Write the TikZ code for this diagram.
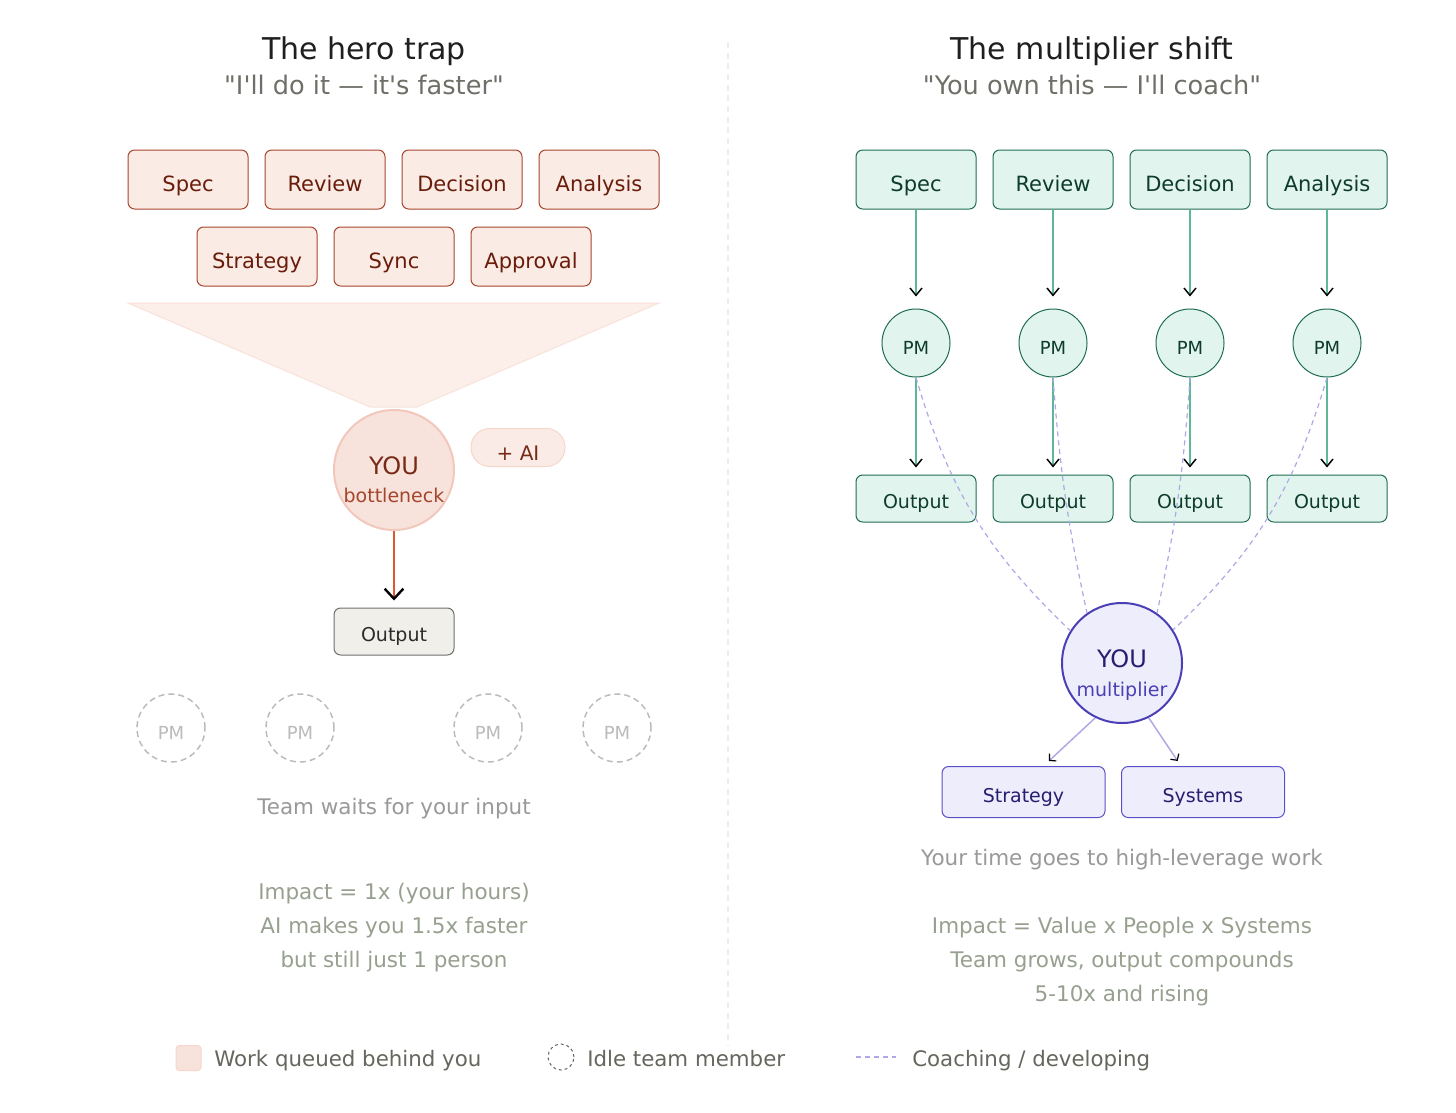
\documentclass[tikz,border=0pt]{standalone}
\usepackage{fontspec}
\setmainfont{DejaVu Sans}
\newfontfamily\plainfont{DejaVu Sans}
\usepackage{tikz}
\usetikzlibrary{positioning, arrows.meta, calc}

\definecolor{heapfill}{HTML}{FAEBE5}
\definecolor{heapdraw}{HTML}{A8462C}
\definecolor{heaptext}{HTML}{6A1C0B}
\definecolor{funnelfill}{HTML}{FCEFEA}
\definecolor{funneldraw}{HTML}{F9E2DA}
\definecolor{stuckfill}{HTML}{F8E2DC}
\definecolor{stuckdraw}{HTML}{F2C8BC}
\definecolor{stucktext}{HTML}{772A15}
\definecolor{bottext}{HTML}{A3462B}
\definecolor{pushline}{HTML}{E2562F}
\definecolor{aifill}{HTML}{FBEBE7}
\definecolor{aidraw}{HTML}{F7D6CC}
\definecolor{doneFill}{HTML}{F1EFEA}
\definecolor{doneDraw}{HTML}{707070}
\definecolor{doneText}{HTML}{2B2B2B}
\definecolor{idlegray}{HTML}{BBBBBB}
\definecolor{notegray}{HTML}{999999}
\definecolor{impactgray}{HTML}{97A08F}
\definecolor{ownfill}{HTML}{E2F4EE}
\definecolor{owndraw}{HTML}{1F6E52}
\definecolor{owntext}{HTML}{0D3B2C}
\definecolor{ownline}{HTML}{5DB897}
\definecolor{multfill}{HTML}{EEEDFC}
\definecolor{multdraw}{HTML}{4B3FB5}
\definecolor{multtext}{HTML}{281E70}
\definecolor{levdraw}{HTML}{5B50C8}
\definecolor{coachline}{HTML}{AFA8E6}
\definecolor{titletext}{HTML}{1F1F1F}
\definecolor{subtext}{HTML}{6F6F68}
\definecolor{legendtext}{HTML}{66665F}
\definecolor{divider}{HTML}{EDEDED}

\newcommand\setfs[1]{\fontsize{#1}{#1}\selectfont}

\tikzset{box/.style = {rectangle, rounded corners=5pt, line width=0.75pt, inner sep=0pt, text depth=0pt},
         heap/.style = {box, draw=heapdraw, fill=heapfill, text=heaptext, minimum width=90pt, minimum height=44.25pt, font=\setfs{15.75pt}, text height=17.3pt},
         done/.style = {box, draw=doneDraw, fill=doneFill, text=doneText, minimum width=90pt, minimum height=35.25pt, font=\setfs{14.25pt}, text height=15.7pt},
         own/.style = {box, draw=owndraw, fill=ownfill, text=owntext, minimum width=90pt, minimum height=44.25pt, font=\setfs{15.75pt}, text height=17.3pt},
         ownout/.style = {own, minimum height=35.25pt, font=\setfs{14.25pt}, text height=15.7pt},
         lever/.style = {box, draw=levdraw, fill=multfill, text=multtext, minimum width=122.25pt, minimum height=38.25pt, font=\setfs{14.25pt}, text height=15.5pt},
         pm/.style = {circle, draw=owndraw, fill=ownfill, text=owntext, minimum size=51pt, inner sep=0pt, line width=0.75pt, font=\setfs{13.5pt}, text height=17.5pt, text depth=0pt},
         idle/.style = {circle, draw=idlegray, dash pattern=on 4.5pt off 3pt, text=idlegray, minimum size=51pt, inner sep=0pt, line width=1.1pt, font=\setfs{13.5pt}, text height=17.5pt, text depth=0pt},
         note/.style = {anchor=base, font=\setfs{16.1pt}},
         legend/.style = {anchor=base west, inner sep=0pt, text=legendtext, font=\setfs{16pt}},
         flow/.style = {draw=ownline, line width=1.1pt, shorten >=5.25pt, -{Straight Barb[color=black, length=5.5pt, width=9pt, line width=1.1pt]}},
         lead/.style = {draw=coachline, line width=1.1pt, -{Straight Barb[color=black, length=3.5pt, width=7.5pt, line width=0.9pt]}},
         coach/.style = {draw=coachline, line width=0.9pt, dash pattern=on 3.75pt off 3pt}}

\begin{document}
\begin{tikzpicture}[x=0.75pt, y=-0.75pt]
            \useasboundingbox (0,0) rectangle (1456,1113);
            \fill[white] (0,0) rectangle (1456,1113);

            \draw[divider, line width=1.1pt, dash pattern=on 4.5pt off 3.5pt] (728,42) -- (728,1045);

            \node[anchor=base, text=titletext, font=\setfs{22.5pt}] (herotitle) at (364,60) {The hero trap};
            \node[anchor=base, text=subtext, font=\plainfont\setfs{19.2pt}] (herosub) at (364,94) {"I'll do it — it's faster"};
            \node[anchor=base, text=titletext, font=\setfs{22.5pt}] (multtitle) at (1092,60) {The multiplier shift};
            \node[anchor=base, text=subtext, font=\plainfont\setfs{19.2pt}] (multsub) at (1092,94) {"You own this — I'll coach"};

            % hero side
            \foreach \name/\x in {Spec/188, Review/325, Decision/462, Analysis/599}
                \node[heap] (h\name) at (\x,179.5) {\name};
            \foreach \name/\x in {Strategy/257, Sync/394, Approval/531}
                \node[heap] (h\name) at (\x,256.5) {\name};

            \draw[draw=funneldraw, fill=funnelfill, line width=0.75pt] (128,303) -- (659,303) -- (417,407) -- (370,407) -- cycle;

            \node[circle, draw=stuckdraw, fill=stuckfill, line width=1.5pt, minimum size=90pt, inner sep=0pt] (hyou) at (394,470) {};
            \node[anchor=base, text=stucktext, font=\setfs{18pt}] (hyoutxt) at (394,474) {YOU};
            \node[anchor=base, text=bottext, font=\setfs{14.25pt}] (hbottxt) at (394,502.5) {bottleneck};

            \node[rectangle, rounded corners=14pt, draw=aidraw, fill=aifill, text=stucktext, line width=0.75pt, minimum width=70.5pt, minimum height=28.5pt, inner sep=0pt, font=\setfs{15pt}, text height=20pt, text depth=0pt] (hai) at (518,447.5) {+ AI};

            \node[done] (hout) at (394,631.5) {Output};
            \draw[draw=pushline, line width=2pt, shorten >=5.25pt, -{Straight Barb[color=black, length=7.5pt, width=14pt, line width=1.8pt]}] (hyou) -- (hout);

            \foreach \x [count=\i] in {171, 300, 488, 617}
                \node[idle] (idle\i) at (\x,728) {PM};

            \node[note, text=notegray] (wait) at (394,814) {Team waits for your input};
            \node[note, text=impactgray] (himp1) at (394,899) {Impact = 1x (your hours)};
            \node[note, text=impactgray] (himp2) at (394,933) {AI makes you 1.5x faster};
            \node[note, text=impactgray] (himp3) at (394,967.5) {but still just 1 person};

            % multiplier side
            \foreach \name/\x [count=\i] in {Spec/916, Review/1053, Decision/1190, Analysis/1327}{
                \node[own] (o\i) at (\x,179.5) {\name};
                \node[pm] (pm\i) at (\x,343) {PM};
                \node[ownout] (out\i) at (\x,498.5) {Output};
                \draw[flow, shorten >=9pt] (o\i) -- (pm\i);
                \draw[flow] (pm\i) -- (out\i);
            }

            \node[circle, draw=multdraw, fill=multfill, line width=1.5pt, minimum size=90pt, inner sep=0pt] (myou) at (1122,663) {};
            \node[anchor=base, text=multtext, font=\setfs{18pt}] (myoutxt) at (1122,667) {YOU};
            \node[anchor=base, text=multdraw, font=\setfs{14.25pt}] (mmulttxt) at (1122,696) {multiplier};

            \draw[coach] (pm1.south) to[bend right=15] (myou.148);
            \draw[coach] (pm2.south) to[bend right=4] (myou.125);
            \draw[coach] (pm3.south) to[bend left=4] (myou.55);
            \draw[coach] (pm4.south) to[bend left=15] (myou.33);

            \node[lever] (strat) at (1023.5,792) {Strategy};
            \node[lever] (systems) at (1203,792) {Systems};
            \draw[lead] (myou.-116) -- ([xshift=19pt, yshift=3.75pt]strat.north);
            \draw[lead] (myou.-64) -- ([xshift=-19pt, yshift=3.75pt]systems.north);

            \node[note, text=notegray] (time) at (1122,865) {Your time goes to high-leverage work};
            \node[note, text=impactgray] (mimp1) at (1122,933.5) {Impact = Value x People x Systems};
            \node[note, text=impactgray] (mimp2) at (1122,967.5) {Team grows, output compounds};
            \node[note, text=impactgray] (mimp3) at (1122,1001.5) {5-10x and rising};

            % legend
            \node[rectangle, rounded corners=2.5pt, draw=aidraw, fill=stuckfill, line width=0.75pt, minimum size=18.75pt, inner sep=0pt] (keyheap) at (188.5,1058) {};
            \node[legend] (legheap) at (214,1066) {Work queued behind you};
            \node[circle, draw=legendtext, dash pattern=on 2.2pt off 2.2pt, line width=0.75pt, minimum size=19.5pt, inner sep=0pt] (keyidle) at (561,1057) {};
            \node[legend] (legidle) at (587,1066) {Idle team member};
            \coordinate (keycoach1) at (856,1057);
            \coordinate (keycoach2) at (896,1057);
            \draw[coach] (keycoach1) -- (keycoach2);
            \node[legend] (legcoach) at (912,1066) {Coaching / developing};
\end{tikzpicture}
\end{document}
